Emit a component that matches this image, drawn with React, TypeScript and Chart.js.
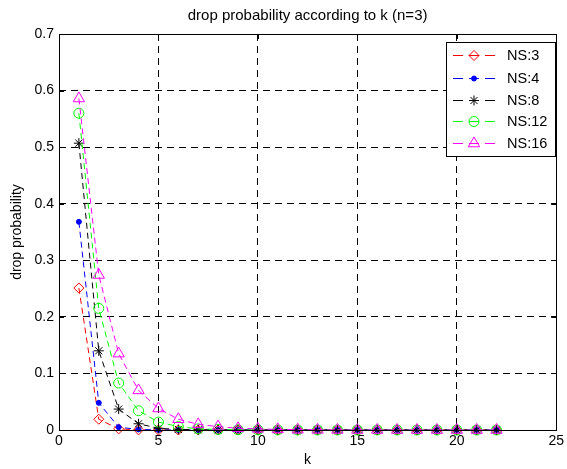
import React, { useEffect, useRef } from "react";
import { Chart, registerables } from "chart.js";

Chart.register(...registerables);

const kValues = [1, 2, 3, 4, 5, 6, 7, 8, 9, 10, 11, 12, 13, 14, 15, 16, 17, 18, 19, 20, 21, 22];
const ns3 = [0.251, 0.019, 0.002, 0.0003, 0, 0, 0, 0, 0, 0, 0, 0, 0, 0, 0, 0, 0, 0, 0, 0, 0, 0];
const ns4 = [0.368, 0.048, 0.005, 0.001, 0.0001, 0, 0, 0, 0, 0, 0, 0, 0, 0, 0, 0, 0, 0, 0, 0, 0, 0];
const ns8 = [0.507, 0.14, 0.037, 0.011, 0.003, 0.001, 0.0003, 0.0001, 0, 0, 0, 0, 0, 0, 0, 0, 0, 0, 0, 0, 0, 0];
const ns12 = [0.56, 0.215, 0.083, 0.034, 0.014, 0.006, 0.002, 0.001, 0.0004, 0.0002, 0.0001, 0, 0, 0, 0, 0, 0, 0, 0, 0, 0, 0];
const ns16 = [0.586, 0.274, 0.135, 0.07, 0.038, 0.019, 0.01, 0.006, 0.003, 0.002, 0.001, 0.0005, 0.0003, 0.0001, 0, 0, 0, 0, 0, 0, 0, 0];

const seriesLabels = ["NS:3", "NS:4", "NS:8", "NS:12", "NS:16"];
const xTickLabels = ["0", "5", "10", "15", "20", "25"];
const yTickLabels = ["0", "0.1", "0.2", "0.3", "0.4", "0.5", "0.6", "0.7"];

const titleText = "drop probability according to k (n=3)";
const xTitle = "k";
const yTitle = "drop probability";

const FONT = "Arial, 'Liberation Sans', Helvetica, sans-serif";

const styles = [
  { color: "#ff0000", pointStyle: "rectRot", radius: 5, fill: "rgba(0,0,0,0)" },
  { color: "#0000ff", pointStyle: "circle", radius: 2.5, fill: "#0000ff" },
  { color: "#000000", pointStyle: "star", radius: 5, fill: "rgba(0,0,0,0)" },
  { color: "#00ff00", pointStyle: "circle", radius: 5, fill: "rgba(0,0,0,0)" },
  { color: "#ff00ff", pointStyle: "triangle", radius: 6.5, fill: "rgba(0,0,0,0)" },
];

const seriesValues = [ns3, ns4, ns8, ns12, ns16];

function drawMarker(ctx: CanvasRenderingContext2D, style: string, r: number, x: number, y: number) {
  ctx.beginPath();
  if (style === "rectRot") {
    ctx.moveTo(x, y - r);
    ctx.lineTo(x + r, y);
    ctx.lineTo(x, y + r);
    ctx.lineTo(x - r, y);
    ctx.closePath();
    ctx.fill();
    ctx.stroke();
  } else if (style === "circle") {
    ctx.arc(x, y, r, 0, Math.PI * 2);
    ctx.closePath();
    ctx.fill();
    ctx.stroke();
  } else if (style === "triangle") {
    ctx.moveTo(x - Math.sin(Math.PI / 3) * r, y + r / 2);
    ctx.lineTo(x, y - r);
    ctx.lineTo(x + Math.sin(Math.PI / 3) * r, y + r / 2);
    ctx.closePath();
    ctx.fill();
    ctx.stroke();
  } else if (style === "star") {
    for (let a = 0; a < 4; a++) {
      const ang = (a * Math.PI) / 4;
      ctx.moveTo(x - Math.cos(ang) * r, y - Math.sin(ang) * r);
      ctx.lineTo(x + Math.cos(ang) * r, y + Math.sin(ang) * r);
    }
    ctx.stroke();
  }
}

const boxPlugin = {
  id: "boxPlugin",
  afterDraw(chart: any) {
    const { ctx, chartArea } = chart;
    const { left, right, top, bottom } = chartArea;
    const xs = chart.scales.x;
    const ys = chart.scales.y;
    ctx.save();
    ctx.setLineDash([]);
    ctx.strokeStyle = "#000";
    ctx.lineWidth = 1;
    ctx.beginPath();
    xs.ticks.forEach((t: any) => {
      const px = Math.round(xs.getPixelForValue(t.value)) + 0.5;
      ctx.moveTo(px, bottom);
      ctx.lineTo(px, bottom - 5);
      ctx.moveTo(px, top);
      ctx.lineTo(px, top + 5);
    });
    ys.ticks.forEach((t: any) => {
      const py = Math.round(ys.getPixelForValue(t.value)) + 0.5;
      ctx.moveTo(left, py);
      ctx.lineTo(left + 5, py);
      ctx.moveTo(right, py);
      ctx.lineTo(right - 5, py);
    });
    ctx.stroke();
    ctx.strokeRect(Math.round(left) + 0.5, Math.round(top) + 0.5, Math.round(right - left), Math.round(bottom - top));

    // legend
    const lx = 446.5, ly = 42.5, lw = 109, lh = 114;
    ctx.fillStyle = "#fff";
    ctx.fillRect(lx, ly, lw, lh);
    ctx.strokeStyle = "#000";
    ctx.strokeRect(lx, ly, lw, lh);
    const rowY = [55, 78, 100, 121, 143];
    seriesLabels.forEach((label, i) => {
      const y = rowY[i] + 0.5;
      const st = styles[i];
      ctx.save();
      ctx.strokeStyle = st.color;
      ctx.lineWidth = 1;
      ctx.setLineDash([10, 6]);
      ctx.beginPath();
      ctx.moveTo(453, y);
      ctx.lineTo(495, y);
      ctx.stroke();
      ctx.setLineDash([]);
      ctx.fillStyle = st.fill;
      ctx.strokeStyle = st.color;
      drawMarker(ctx, st.pointStyle, st.radius, 474, y);
      ctx.restore();
      ctx.fillStyle = "#000";
      ctx.font = `14.5px ${FONT}`;
      ctx.textAlign = "left";
      ctx.textBaseline = "middle";
      ctx.fillText(label, 507, y + 0.5);
    });
    ctx.restore();
  },
};

export default function App() {
  const ref = useRef<HTMLCanvasElement | null>(null);
  useEffect(() => {
    document.body.style.margin = "0";
    const canvas = ref.current!;
    const datasets = seriesValues.map((vals, i) => ({
      label: seriesLabels[i],
      data: kValues.map((k, j) => ({ x: k, y: vals[j] })),
      borderColor: styles[i].color,
      backgroundColor: styles[i].color,
      borderWidth: 1,
      borderDash: [6, 4],
      pointStyle: styles[i].pointStyle,
      pointRadius: styles[i].radius,
      pointBorderColor: styles[i].color,
      pointBackgroundColor: styles[i].fill,
      pointBorderWidth: 1,
      tension: 0,
      fill: false,
      clip: false,
      order: 4 - i,
    }));
    const chart = new Chart(canvas, {
      type: "line",
      data: { datasets },
      options: {
        responsive: false,
        animation: false,
        devicePixelRatio: 1,
        layout: { padding: { left: 0, right: 8, top: 0, bottom: 0 } },
        plugins: {
          legend: { display: false },
          tooltip: { enabled: false },
          title: {
            display: true,
            fullSize: false,
            text: titleText,
            color: "#000",
            font: { family: FONT, size: 15, weight: "normal" },
            padding: { top: 7, bottom: 34 - 7 - 15 * 1.2 },
          },
        },
        scales: {
          x: {
            type: "linear",
            min: 0,
            max: 25,
            afterFit: (s: any) => {
              s.height = 39;
            },
            ticks: {
              stepSize: 5,
              padding: 3,
              color: "#000",
              font: { family: FONT, size: 14 },
              maxRotation: 0,
              callback: (v: any, i: number) => xTickLabels[i],
            },
            grid: { color: "#000", drawTicks: false, lineWidth: 1 },
            border: { display: false, dash: [7, 5] },
            title: {
              display: true,
              text: xTitle,
              color: "#000",
              font: { family: FONT, size: 14 },
              padding: { top: 0, bottom: 0 },
            },
          },
          y: {
            type: "linear",
            min: 0,
            max: 0.7,
            afterFit: (s: any) => {
              s.width = 59;
            },
            ticks: {
              stepSize: 0.1,
              padding: 5,
              color: "#000",
              font: { family: FONT, size: 14 },
              callback: (v: any, i: number) => yTickLabels[i],
            },
            grid: { color: "#000", drawTicks: false, lineWidth: 1 },
            border: { display: false, dash: [7, 5] },
            title: {
              display: true,
              text: yTitle,
              color: "#000",
              font: { family: FONT, size: 14 },
              padding: { top: 9, bottom: 9 },
            },
          },
        },
      },
      plugins: [boxPlugin],
    } as any);
    return () => chart.destroy();
  }, []);
  return (
    <div style={{ position: "absolute", left: 0, top: 0, width: 567, height: 469, background: "#fff" }}>
      <canvas ref={ref} width={567} height={469} />
    </div>
  );
}
